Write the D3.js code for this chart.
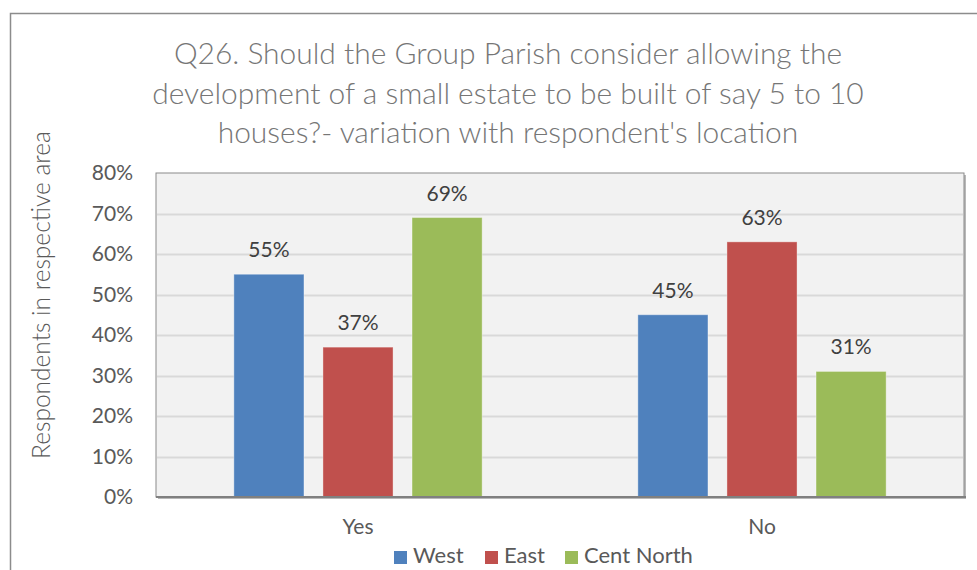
<!DOCTYPE html>
<html><head><meta charset="utf-8">
<script src="https://cdn.jsdelivr.net/npm/d3@7"></script>
<style>body{margin:0;background:#fff;} svg{display:block;} text{font-family:Lato,"Open Sans",sans-serif;font-weight:400;}</style>
</head><body>
<svg id="c" width="977" height="570"></svg>
<script>
const categories = ["Yes", "No"];
const seriesNames = ["West", "East", "Cent North"];
const seriesColors = ["#4f81bd", "#c0504d", "#9bbb59"];
const west = [55, 45];
const east = [37, 63];
const centNorth = [69, 31];
const yTicks = [0, 10, 20, 30, 40, 50, 60, 70, 80];
const titleLines = ["Q26. Should the Group Parish consider allowing the",
  "development of a small estate to be built of say 5 to 10",
  "houses?- variation with respondent's location"];
const yTitle = "Respondents in respective area";

const seriesValues = [west, east, centNorth];
const svg = d3.select("#c");

// outer chart border
svg.append("rect").attr("x", 10.5).attr("y", 13.5).attr("width", 990).attr("height", 600)
  .attr("fill", "#fff").attr("stroke", "#8c8c8c").attr("stroke-width", 1.5);

const L = 156, T = 173, R = 964, B = 497;
const x0 = d3.scaleBand().domain(categories).range([L, R]);
const y = d3.scaleLinear().domain([0, 80]).range([B, T]);

// plot area shadow + fill
svg.append("rect").attr("x", L + 2).attr("y", T + 2).attr("width", R - L).attr("height", B - T)
  .attr("fill", "#b8b8b8");
svg.append("rect").attr("x", L).attr("y", T).attr("width", R - L).attr("height", B - T)
  .attr("fill", "#f2f2f2").attr("stroke", "#8a8a8a").attr("stroke-width", 1);

// gridlines
svg.append("g").selectAll("line").data(yTicks.filter(d => d > 0 && d < 80)).join("line")
  .attr("x1", L + 1).attr("x2", R - 1)
  .attr("y1", d => Math.round(y(d)) + 0.5).attr("y2", d => Math.round(y(d)) + 0.5)
  .attr("stroke", "#d9d9d9").attr("stroke-width", 2);

// y axis labels
const yAxis = d3.axisLeft(y).tickValues(yTicks).tickFormat(d => d + "%").tickSize(0).tickPadding(0);
const ya = svg.append("g").attr("transform", `translate(${L - 23},0)`).call(yAxis);
ya.select(".domain").remove();
ya.selectAll("text").attr("font-size", 21).attr("fill", "#595959")
  .style("font-family", "Lato, 'Open Sans', sans-serif").style("font-weight", 400);

// bars
const bw = x0.bandwidth();
const barW = bw * 0.1735, gap = bw * 0.047;
const groupW = barW * 3 + gap * 2;
const bars = [];
categories.forEach((c, ci) => {
  seriesValues.forEach((vals, si) => {
    const cx = x0(c) + (bw - groupW) / 2 + si * (barW + gap);
    bars.push({c, si, v: vals[ci], x: cx});
  });
});
svg.append("g").selectAll("rect").data(bars).join("rect")
  .attr("x", d => d.x).attr("width", barW)
  .attr("y", d => y(d.v)).attr("height", d => B - y(d.v))
  .attr("fill", d => seriesColors[d.si])
  .attr("stroke", "#ffffff").attr("stroke-opacity", 0.35).attr("stroke-width", 1);

// bottom axis line
svg.append("line").attr("x1", L).attr("x2", R + 2).attr("y1", B).attr("y2", B)
  .attr("stroke", "#808080").attr("stroke-width", 2);

// data labels
svg.append("g").selectAll("text").data(bars).join("text")
  .attr("x", d => d.x + barW / 2).attr("y", d => y(d.v) - 17)
  .attr("text-anchor", "middle").attr("font-size", 21).attr("fill", "#404040")
  .text(d => d.v + "%");

// category labels
const xAxis = d3.axisBottom(x0).tickSize(0).tickPadding(0);
const xa = svg.append("g").attr("transform", `translate(0,${B + 22})`).call(xAxis);
xa.select(".domain").remove();
xa.selectAll("text").attr("font-size", 21).attr("fill", "#595959")
  .style("font-family", "Lato, 'Open Sans', sans-serif").style("font-weight", 400);

// title
const tg = svg.append("g");
const tBase = [64, 104, 143];
titleLines.forEach((t, i) => {
  tg.append("text").attr("x", 508).attr("y", tBase[i]).attr("text-anchor", "middle")
    .attr("font-size", 29).attr("fill", "#767676").style("font-weight", 300).text(t);
});
// fit title width to reference
const t2 = tg.selectAll("text").nodes()[1];
const w2 = t2.getComputedTextLength();
const fs = 29 * 712 / w2;
tg.selectAll("text").attr("font-size", fs);

// y title
svg.append("text").attr("transform", `translate(50,${(125 + 465) / 2}) rotate(-90)`)
  .attr("text-anchor", "middle").attr("font-size", 24.5).attr("fill", "#595959")
  .style("font-weight", 300).text(yTitle);

// legend
const legX = [394, 485, 565];
const lg = svg.append("g").selectAll("g").data(seriesNames).join("g")
  .attr("transform", (d, i) => `translate(${legX[i]},551)`);
lg.append("rect").attr("width", 13).attr("height", 13).attr("fill", (d, i) => seriesColors[i]);
lg.append("text").attr("x", 19).attr("y", 12).attr("font-size", 22).attr("fill", "#595959").text(d => d);
</script>
</body></html>
